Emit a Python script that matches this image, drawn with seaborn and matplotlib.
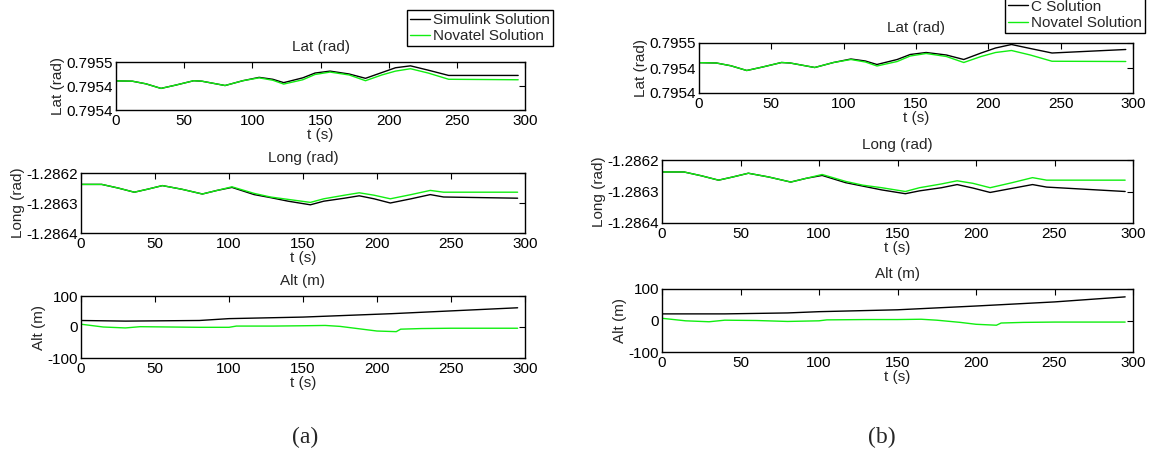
import numpy as np
import pandas as pd
import matplotlib
matplotlib.use("Agg")
import matplotlib.pyplot as plt
import seaborn as sns

# ---- data ----
t_lat = [0, 12, 22, 33, 44, 57, 63, 80, 93, 105, 115, 123, 137, 146, 157, 171, 183, 195, 205, 216, 229, 244, 295]
lat_ref_a = [0.7954607, 0.7954600, 0.7954545, 0.7954450, 0.7954520, 0.7954610, 0.7954600, 0.7954510, 0.7954610, 0.7954670,
             0.7954620, 0.7954540, 0.7954630, 0.7954740, 0.7954790, 0.7954730, 0.7954610, 0.7954730, 0.7954810, 0.7954860,
             0.7954770, 0.7954640, 0.7954630]
lat_sim_a = [0.7954607, 0.7954600, 0.7954545, 0.7954450, 0.7954520, 0.7954610, 0.7954600, 0.7954510, 0.7954610, 0.7954680,
             0.7954640, 0.7954570, 0.7954670, 0.7954770, 0.7954810, 0.7954750, 0.7954660, 0.7954780, 0.7954880, 0.7954920,
             0.7954830, 0.7954720, 0.7954720]
lat_ref_b = [0.7954607, 0.7954600, 0.7954545, 0.7954450, 0.7954520, 0.7954610, 0.7954600, 0.7954510, 0.7954610, 0.7954670,
             0.7954620, 0.7954540, 0.7954630, 0.7954740, 0.7954790, 0.7954730, 0.7954610, 0.7954730, 0.7954810, 0.7954850,
             0.7954760, 0.7954635, 0.7954630]
lat_c_b = [0.7954607, 0.7954600, 0.7954545, 0.7954450, 0.7954520, 0.7954610, 0.7954600, 0.7954510, 0.7954610, 0.7954680,
           0.7954640, 0.7954570, 0.7954670, 0.7954770, 0.7954810, 0.7954760, 0.7954670, 0.7954800, 0.7954900, 0.7954970,
           0.7954890, 0.7954800, 0.7954870]

t_long = [0, 14, 25, 36, 45, 55, 68, 82, 92, 102, 117, 128, 140, 155, 164, 178, 188, 198, 209, 223, 236, 245, 295]
long_ref_a = [-1.286238, -1.286238, -1.286250, -1.286264, -1.286254, -1.286242, -1.286254, -1.286270, -1.286258, -1.286246,
              -1.286268, -1.286280, -1.286288, -1.286298, -1.286286, -1.286274, -1.286266, -1.286274, -1.286286, -1.286272,
              -1.286258, -1.286264, -1.286264]
long_sim_a = [-1.286238, -1.286238, -1.286250, -1.286264, -1.286254, -1.286242, -1.286254, -1.286270, -1.286258, -1.286248,
              -1.286272, -1.286282, -1.286294, -1.286306, -1.286294, -1.286284, -1.286276, -1.286286, -1.286300, -1.286286,
              -1.286272, -1.286280, -1.286284]
long_ref_b = [-1.286238, -1.286238, -1.286250, -1.286264, -1.286254, -1.286242, -1.286254, -1.286270, -1.286258, -1.286246,
              -1.286268, -1.286280, -1.286288, -1.286300, -1.286288, -1.286276, -1.286266, -1.286274, -1.286288, -1.286272,
              -1.286256, -1.286264, -1.286264]
long_c_b = [-1.286238, -1.286238, -1.286250, -1.286264, -1.286254, -1.286242, -1.286254, -1.286270, -1.286258, -1.286249,
            -1.286272, -1.286283, -1.286295, -1.286307, -1.286298, -1.286288, -1.286278, -1.286289, -1.286303, -1.286290,
            -1.286278, -1.286286, -1.286300]

t_alt_ref = [0, 15, 30, 40, 60, 80, 100, 105, 130, 150, 165, 175, 190, 200, 213, 216, 230, 250, 295]
alt_ref_a = [9, 0, -3, 1, 0, -1, -1, 3, 3, 4, 5, 2, -7, -13, -15, -7, -5, -4, -4]
alt_ref_b = [7, -1, -4, 1, 0, -3, -1, 2, 3, 3, 4, 1, -6, -12, -15, -8, -6, -5, -5]
t_alt_sim_a = [0, 30, 80, 100, 150, 210, 295]
alt_sim_a = [21, 19, 21, 27, 32, 43, 62]
t_alt_c_b = [0, 40, 80, 100, 150, 200, 250, 295]
alt_c_b = [21, 21, 24, 28, 34, 46, 59, 75]

lat_ticks = [0.79540, 0.79545, 0.79550]
lat_labels = ["0.7954", "0.7954", "0.7955"]
long_ticks = [-1.2864, -1.2863, -1.2862]
long_labels = ["-1.2864", "-1.2863", "-1.2862"]
alt_ticks = [-100, 0, 100]
alt_labels = ["-100", "0", "100"]

sns.set_style("white")
plt.rcParams["font.family"] = ["Liberation Sans", "DejaVu Sans"]
plt.rcParams["font.size"] = 11

W, H = 1153, 457
fig = plt.figure(figsize=(W / 100, H / 100), dpi=100)


def px_axes(x0, y0, x1, y1):
    return fig.add_axes([x0 / W, 1 - y1 / H, (x1 - x0) / W, (y1 - y0) / H])


def style(ax, title, ylab, ticks, labels, lo, hi):
    ax.set_xlim(0, 300)
    ax.set_ylim(lo, hi)
    ax.set_xticks([0, 50, 100, 150, 200, 250, 300])
    ax.set_yticks(ticks)
    ax.set_yticklabels(labels)
    ax.tick_params(direction="in", length=4, width=0.8, top=True, right=True,
                   labelsize=11, colors="black")
    ax.tick_params(axis="x", pad=3)
    ax.tick_params(axis="y", pad=2)
    for s in ax.spines.values():
        s.set_color("black")
        s.set_linewidth(1.0)
    ax.set_title(title, fontsize=11, pad=8)
    ax.set_xlabel("t (s)", fontsize=11, labelpad=0)
    ax.set_ylabel(ylab, fontsize=11, labelpad=1)


green = "#11ee11"
leg_kw = dict(fancybox=False, edgecolor="black", framealpha=1, fontsize=11, handlelength=1.3,
              handletextpad=0.2, borderpad=0.2, labelspacing=0.15, borderaxespad=0)

# ---- panel (a) ----
ax = px_axes(116, 62, 525, 110)
sns.lineplot(x=t_lat, y=lat_sim_a, ax=ax, color="black", lw=1, label="Simulink Solution")
sns.lineplot(x=t_lat, y=lat_ref_a, ax=ax, color=green, lw=1, label="Novatel Solution")
style(ax, "Lat (rad)", "Lat (rad)", lat_ticks, lat_labels, 0.79540, 0.79550)
ax.legend(loc="upper right", bbox_to_anchor=(553 / W, 1 - 10 / H), bbox_transform=fig.transFigure, **leg_kw)

ax = px_axes(81, 173, 525, 233)
sns.lineplot(x=t_long, y=long_sim_a, ax=ax, color="black", lw=1, legend=False)
sns.lineplot(x=t_long, y=long_ref_a, ax=ax, color=green, lw=1, legend=False)
style(ax, "Long (rad)", "Long (rad)", long_ticks, long_labels, -1.2864, -1.2862)

ax = px_axes(81, 296, 525, 358)
sns.lineplot(x=t_alt_sim_a, y=alt_sim_a, ax=ax, color="black", lw=1, legend=False)
sns.lineplot(x=t_alt_ref, y=alt_ref_a, ax=ax, color=green, lw=1, legend=False)
style(ax, "Alt (m)", "Alt (m)", alt_ticks, alt_labels, -100, 100)

# ---- panel (b) ----
ax = px_axes(699, 43, 1133, 93)
sns.lineplot(x=t_lat, y=lat_c_b, ax=ax, color="black", lw=1, label="C Solution")
sns.lineplot(x=t_lat, y=lat_ref_b, ax=ax, color=green, lw=1, label="Novatel Solution")
style(ax, "Lat (rad)", "Lat (rad)", lat_ticks, lat_labels, 0.79540, 0.79550)
ax.legend(loc="lower right", bbox_to_anchor=(1145 / W, 1 - 33 / H), bbox_transform=fig.transFigure, **leg_kw)

ax = px_axes(662, 160, 1133, 223)
sns.lineplot(x=t_long, y=long_c_b, ax=ax, color="black", lw=1, legend=False)
sns.lineplot(x=t_long, y=long_ref_b, ax=ax, color=green, lw=1, legend=False)
style(ax, "Long (rad)", "Long (rad)", long_ticks, long_labels, -1.2864, -1.2862)

ax = px_axes(662, 289, 1133, 352)
sns.lineplot(x=t_alt_c_b, y=alt_c_b, ax=ax, color="black", lw=1, legend=False)
sns.lineplot(x=t_alt_ref, y=alt_ref_b, ax=ax, color=green, lw=1, legend=False)
style(ax, "Alt (m)", "Alt (m)", alt_ticks, alt_labels, -100, 100)

fig.text(305 / W, 1 - 437 / H, "(a)", ha="center", va="center", fontsize=17,
         family=["Liberation Serif", "DejaVu Serif"])
fig.text(882 / W, 1 - 437 / H, "(b)", ha="center", va="center", fontsize=17,
         family=["Liberation Serif", "DejaVu Serif"])

fig.savefig("out.png", dpi=100)
